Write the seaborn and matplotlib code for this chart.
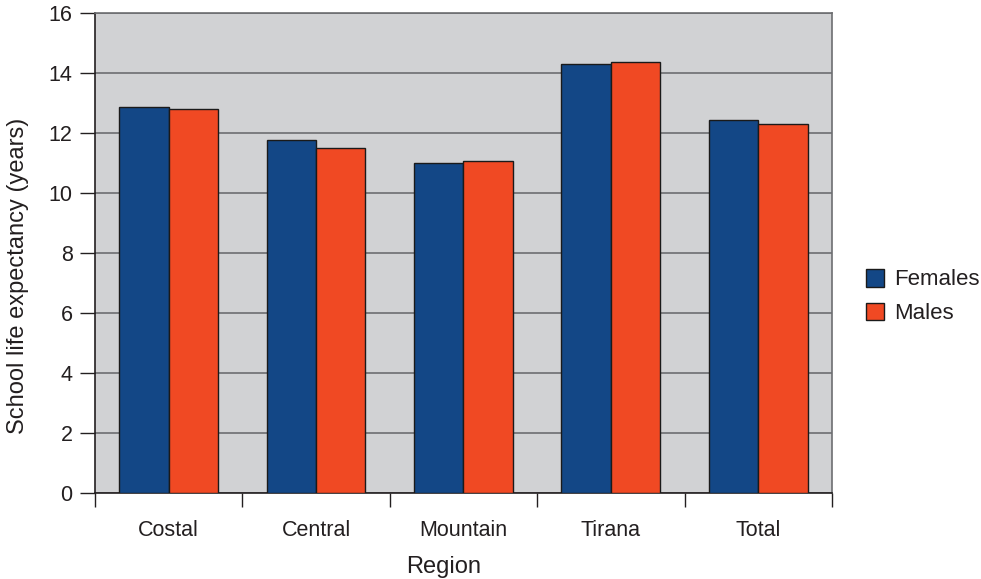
import matplotlib
matplotlib.use("Agg")
import matplotlib.pyplot as plt
import seaborn as sns
import pandas as pd
from matplotlib.patches import Patch

regions = ["Costal", "Central", "Mountain", "Tirana", "Total"]
females = [12.87, 11.76, 11.00, 14.30, 12.43]
males = [12.80, 11.49, 11.07, 14.36, 12.31]
series = ["Females", "Males"]
colors = {"Females": "#134786", "Males": "#f04923"}

df = pd.DataFrame({
    "Region": regions * 2,
    "value": females + males,
    "Sex": ["Females"] * len(regions) + ["Males"] * len(regions),
})

sns.set_theme(style="white")
plt.rcParams["font.family"] = ["Liberation Sans", "DejaVu Sans"]

fig = plt.figure(figsize=(9.81, 5.79), dpi=100)
ax = fig.add_axes([0.0968, 0.1485, 0.7513, 0.829])
ax.set_facecolor("#d1d2d4")

sns.barplot(data=df, x="Region", y="value", hue="Sex", order=regions,
            hue_order=series, palette=colors, width=0.67, dodge=True,
            edgecolor="#1a1a1a", linewidth=1.0, saturation=1, ax=ax,
            legend=False, zorder=3)

ax.set_ylim(0, 16)
ax.set_xlim(-0.5, len(regions) - 0.5)
ax.set_yticks(range(0, 17, 2))
ax.yaxis.grid(True, color="#6d6e71", linewidth=1.2, zorder=1)
ax.set_axisbelow(True)

# category ticks between groups, labels centred under groups
ax.set_xticks(range(len(regions)))
ax.set_xticklabels(regions)
ax.set_xticks([i - 0.5 for i in range(len(regions) + 1)], minor=True)
ax.tick_params(axis="x", which="major", length=0, pad=19.5, labelsize=15.5,
               colors="#231f20")
ax.tick_params(axis="x", which="minor", length=10, width=1.0, color="#231f20",
               direction="out", bottom=True)
ax.tick_params(axis="y", length=11, width=1.0, color="#231f20", direction="out",
               left=True, labelsize=15.5, labelcolor="#231f20", pad=5)

for side in ["left", "bottom"]:
    ax.spines[side].set_color("#231f20")
    ax.spines[side].set_linewidth(1.2)
for side in ["top", "right"]:
    ax.spines[side].set_color("#6d6e71")
    ax.spines[side].set_linewidth(1.2)
    ax.spines[side].set_visible(True)

ax.set_xlabel("Region", fontsize=17, color="#231f20", labelpad=11)
ax.set_ylabel("School life expectancy (years)", fontsize=17, color="#231f20",
              labelpad=14)
ax.xaxis.label.set_x(0.4735)
ax.yaxis.label.set_y(0.452)

handles = [Patch(facecolor=colors[s], edgecolor="#1a1a1a", linewidth=1.0, label=s)
           for s in series]
fig.legend(handles=handles, loc="center left", bbox_to_anchor=(0.883, 0.488),
           frameon=False, fontsize=16, handlelength=0.8, handleheight=0.85,
           handletextpad=0.45, labelspacing=0.55, labelcolor="#231f20",
           borderpad=0, borderaxespad=0)

fig.savefig("out.png", dpi=100)
